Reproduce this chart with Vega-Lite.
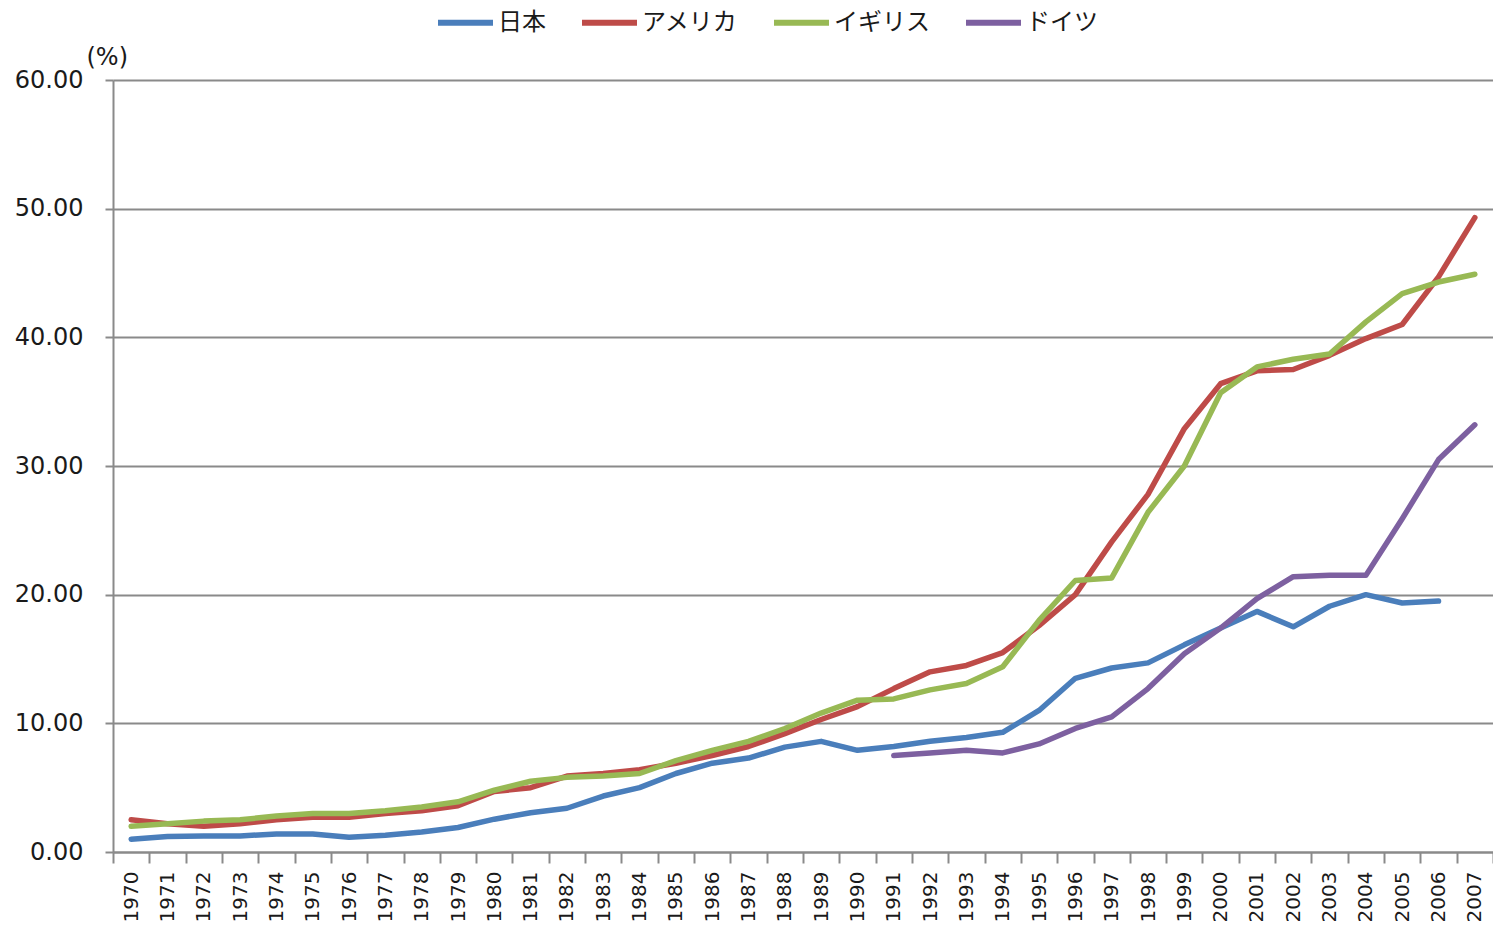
{
  "$schema": "https://vega.github.io/schema/vega-lite/v6.json",
  "width": 1380,
  "height": 772,
  "autosize": {"type": "none"},
  "padding": {"left": 113, "top": 80, "right": 0, "bottom": 78},
  "background": "white",
  "datasets": {
    "d": [
      {"year": 1970, "country": "日本", "value": 1.0},
      {"year": 1971, "country": "日本", "value": 1.2},
      {"year": 1972, "country": "日本", "value": 1.25},
      {"year": 1973, "country": "日本", "value": 1.25},
      {"year": 1974, "country": "日本", "value": 1.4},
      {"year": 1975, "country": "日本", "value": 1.4},
      {"year": 1976, "country": "日本", "value": 1.15},
      {"year": 1977, "country": "日本", "value": 1.3},
      {"year": 1978, "country": "日本", "value": 1.55},
      {"year": 1979, "country": "日本", "value": 1.9},
      {"year": 1980, "country": "日本", "value": 2.55},
      {"year": 1981, "country": "日本", "value": 3.05},
      {"year": 1982, "country": "日本", "value": 3.4},
      {"year": 1983, "country": "日本", "value": 4.35},
      {"year": 1984, "country": "日本", "value": 5.0},
      {"year": 1985, "country": "日本", "value": 6.1},
      {"year": 1986, "country": "日本", "value": 6.9},
      {"year": 1987, "country": "日本", "value": 7.3},
      {"year": 1988, "country": "日本", "value": 8.15},
      {"year": 1989, "country": "日本", "value": 8.6},
      {"year": 1990, "country": "日本", "value": 7.9},
      {"year": 1991, "country": "日本", "value": 8.2},
      {"year": 1992, "country": "日本", "value": 8.6},
      {"year": 1993, "country": "日本", "value": 8.9},
      {"year": 1994, "country": "日本", "value": 9.3},
      {"year": 1995, "country": "日本", "value": 11.0},
      {"year": 1996, "country": "日本", "value": 13.5},
      {"year": 1997, "country": "日本", "value": 14.3},
      {"year": 1998, "country": "日本", "value": 14.7},
      {"year": 1999, "country": "日本", "value": 16.1},
      {"year": 2000, "country": "日本", "value": 17.4},
      {"year": 2001, "country": "日本", "value": 18.7},
      {"year": 2002, "country": "日本", "value": 17.5},
      {"year": 2003, "country": "日本", "value": 19.1},
      {"year": 2004, "country": "日本", "value": 20.0},
      {"year": 2005, "country": "日本", "value": 19.35},
      {"year": 2006, "country": "日本", "value": 19.5},
      {"year": 1970, "country": "アメリカ", "value": 2.5},
      {"year": 1971, "country": "アメリカ", "value": 2.2},
      {"year": 1972, "country": "アメリカ", "value": 2.0},
      {"year": 1973, "country": "アメリカ", "value": 2.2},
      {"year": 1974, "country": "アメリカ", "value": 2.5},
      {"year": 1975, "country": "アメリカ", "value": 2.7},
      {"year": 1976, "country": "アメリカ", "value": 2.7},
      {"year": 1977, "country": "アメリカ", "value": 3.0},
      {"year": 1978, "country": "アメリカ", "value": 3.2},
      {"year": 1979, "country": "アメリカ", "value": 3.6},
      {"year": 1980, "country": "アメリカ", "value": 4.7},
      {"year": 1981, "country": "アメリカ", "value": 5.0},
      {"year": 1982, "country": "アメリカ", "value": 5.9},
      {"year": 1983, "country": "アメリカ", "value": 6.1},
      {"year": 1984, "country": "アメリカ", "value": 6.4},
      {"year": 1985, "country": "アメリカ", "value": 6.9},
      {"year": 1986, "country": "アメリカ", "value": 7.5},
      {"year": 1987, "country": "アメリカ", "value": 8.2},
      {"year": 1988, "country": "アメリカ", "value": 9.2},
      {"year": 1989, "country": "アメリカ", "value": 10.3},
      {"year": 1990, "country": "アメリカ", "value": 11.3},
      {"year": 1991, "country": "アメリカ", "value": 12.7},
      {"year": 1992, "country": "アメリカ", "value": 14.0},
      {"year": 1993, "country": "アメリカ", "value": 14.5},
      {"year": 1994, "country": "アメリカ", "value": 15.5},
      {"year": 1995, "country": "アメリカ", "value": 17.6},
      {"year": 1996, "country": "アメリカ", "value": 20.0},
      {"year": 1997, "country": "アメリカ", "value": 24.1},
      {"year": 1998, "country": "アメリカ", "value": 27.8},
      {"year": 1999, "country": "アメリカ", "value": 32.9},
      {"year": 2000, "country": "アメリカ", "value": 36.4},
      {"year": 2001, "country": "アメリカ", "value": 37.4},
      {"year": 2002, "country": "アメリカ", "value": 37.5},
      {"year": 2003, "country": "アメリカ", "value": 38.6},
      {"year": 2004, "country": "アメリカ", "value": 39.9},
      {"year": 2005, "country": "アメリカ", "value": 41.0},
      {"year": 2006, "country": "アメリカ", "value": 44.7},
      {"year": 2007, "country": "アメリカ", "value": 49.3},
      {"year": 1970, "country": "イギリス", "value": 2.0},
      {"year": 1971, "country": "イギリス", "value": 2.2},
      {"year": 1972, "country": "イギリス", "value": 2.4},
      {"year": 1973, "country": "イギリス", "value": 2.5},
      {"year": 1974, "country": "イギリス", "value": 2.8},
      {"year": 1975, "country": "イギリス", "value": 3.0},
      {"year": 1976, "country": "イギリス", "value": 3.0},
      {"year": 1977, "country": "イギリス", "value": 3.2},
      {"year": 1978, "country": "イギリス", "value": 3.5},
      {"year": 1979, "country": "イギリス", "value": 3.9},
      {"year": 1980, "country": "イギリス", "value": 4.8},
      {"year": 1981, "country": "イギリス", "value": 5.5},
      {"year": 1982, "country": "イギリス", "value": 5.8},
      {"year": 1983, "country": "イギリス", "value": 5.9},
      {"year": 1984, "country": "イギリス", "value": 6.1},
      {"year": 1985, "country": "イギリス", "value": 7.1},
      {"year": 1986, "country": "イギリス", "value": 7.9},
      {"year": 1987, "country": "イギリス", "value": 8.6},
      {"year": 1988, "country": "イギリス", "value": 9.6},
      {"year": 1989, "country": "イギリス", "value": 10.8},
      {"year": 1990, "country": "イギリス", "value": 11.8},
      {"year": 1991, "country": "イギリス", "value": 11.9},
      {"year": 1992, "country": "イギリス", "value": 12.6},
      {"year": 1993, "country": "イギリス", "value": 13.1},
      {"year": 1994, "country": "イギリス", "value": 14.4},
      {"year": 1995, "country": "イギリス", "value": 18.0},
      {"year": 1996, "country": "イギリス", "value": 21.1},
      {"year": 1997, "country": "イギリス", "value": 21.3},
      {"year": 1998, "country": "イギリス", "value": 26.4},
      {"year": 1999, "country": "イギリス", "value": 30.0},
      {"year": 2000, "country": "イギリス", "value": 35.7},
      {"year": 2001, "country": "イギリス", "value": 37.7},
      {"year": 2002, "country": "イギリス", "value": 38.3},
      {"year": 2003, "country": "イギリス", "value": 38.7},
      {"year": 2004, "country": "イギリス", "value": 41.2},
      {"year": 2005, "country": "イギリス", "value": 43.4},
      {"year": 2006, "country": "イギリス", "value": 44.3},
      {"year": 2007, "country": "イギリス", "value": 44.9},
      {"year": 1991, "country": "ドイツ", "value": 7.5},
      {"year": 1992, "country": "ドイツ", "value": 7.7},
      {"year": 1993, "country": "ドイツ", "value": 7.9},
      {"year": 1994, "country": "ドイツ", "value": 7.7},
      {"year": 1995, "country": "ドイツ", "value": 8.4},
      {"year": 1996, "country": "ドイツ", "value": 9.6},
      {"year": 1997, "country": "ドイツ", "value": 10.5},
      {"year": 1998, "country": "ドイツ", "value": 12.7},
      {"year": 1999, "country": "ドイツ", "value": 15.4},
      {"year": 2000, "country": "ドイツ", "value": 17.4},
      {"year": 2001, "country": "ドイツ", "value": 19.7},
      {"year": 2002, "country": "ドイツ", "value": 21.4},
      {"year": 2003, "country": "ドイツ", "value": 21.5},
      {"year": 2004, "country": "ドイツ", "value": 21.5},
      {"year": 2005, "country": "ドイツ", "value": 25.9},
      {"year": 2006, "country": "ドイツ", "value": 30.5},
      {"year": 2007, "country": "ドイツ", "value": 33.2}
    ]
  },
  "data": {"name": "d"},
  "mark": {"type": "line", "strokeWidth": 5.5, "strokeJoin": "round", "strokeCap": "round"},
  "encoding": {
    "x": {
      "field": "year",
      "type": "ordinal",
      "bandPosition": 0.5,
      "scale": {"type": "band", "paddingInner": 0, "paddingOuter": 0},
      "axis": {
        "title": null,
        "labelAngle": 270,
        "labelAlign": "right",
        "labelBaseline": "middle",
        "labelFont": "DejaVu Sans",
        "labelFontSize": 20,
        "labelColor": "#1a1a1a",
        "labelPadding": 8,
        "tickBand": "extent",
        "tickSize": 11,
        "tickColor": "#8a8a8a",
        "tickWidth": 2,
        "domainColor": "#8a8a8a",
        "domainWidth": 2,
        "grid": false
      }
    },
    "y": {
      "field": "value",
      "type": "quantitative",
      "scale": {"domain": [0, 60], "nice": false, "zero": true},
      "axis": {
        "values": [0, 10, 20, 30, 40, 50, 60],
        "format": ".2f",
        "title": "(%)",
        "titleAngle": 0,
        "titleX": -27,
        "titleY": -23,
        "titleAlign": "left",
        "titleBaseline": "middle",
        "titleFont": "DejaVu Sans",
        "titleFontSize": 24,
        "titleFontWeight": "normal",
        "titleColor": "#1a1a1a",
        "labelFont": "DejaVu Sans",
        "labelFontSize": 24,
        "labelColor": "#1a1a1a",
        "labelPadding": 22,
        "tickSize": 8,
        "tickColor": "#8a8a8a",
        "tickWidth": 2,
        "domainColor": "#8a8a8a",
        "domainWidth": 2,
        "grid": true,
        "gridColor": "#8a8a8a",
        "gridWidth": 2
      }
    },
    "color": {
      "field": "country",
      "type": "nominal",
      "sort": ["日本", "アメリカ", "イギリス", "ドイツ"],
      "scale": {
        "domain": ["日本", "アメリカ", "イギリス", "ドイツ"],
        "range": ["#4A7EBB", "#BE4B48", "#98B954", "#7D60A0"]
      },
      "legend": {
        "title": null,
        "orient": "none",
        "direction": "horizontal",
        "legendX": 322,
        "legendY": -88,
        "symbolType": "stroke",
        "symbolSize": 3025,
        "symbolStrokeWidth": 6,
        "labelFont": "Noto Sans CJK JP",
        "labelFontSize": 24,
        "labelColor": "#1a1a1a",
        "labelOffset": 2,
        "columnPadding": 24
      }
    }
  },
  "config": {"view": {"stroke": null}}
}
